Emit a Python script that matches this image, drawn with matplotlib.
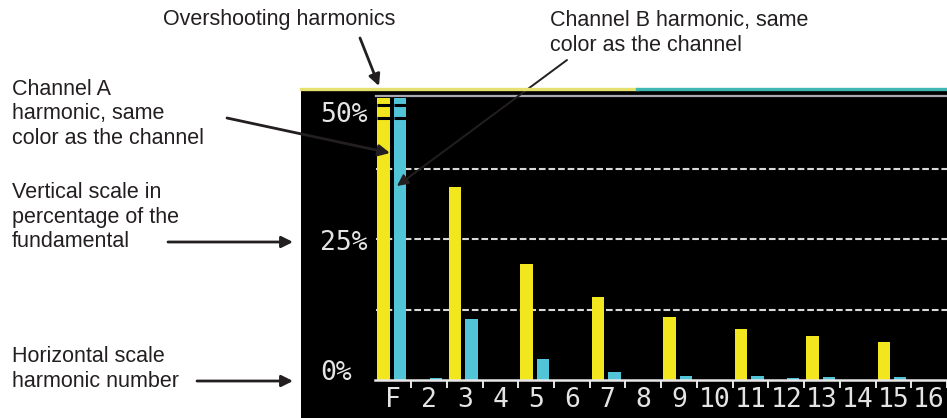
import matplotlib
matplotlib.use("Agg")
import matplotlib.pyplot as plt
import numpy as np
from matplotlib import font_manager

harmonics = ['F', '2', '3', '4', '5', '6', '7', '8', '9', '10', '11', '12', '13', '14', '15', '16']
channel_a = [100, 0, 34.2, 0, 20.6, 0, 14.7, 0, 11.2, 0, 9.0, 0, 7.8, 0, 6.7, 0]
channel_b = [100, 0.3, 10.8, 0, 3.7, 0, 1.4, 0, 0.7, 0, 0.7, 0.4, 0.5, 0, 0.5, 0]
scale_labels = ['0%', '25%', '50%']
grid_values = [12.5, 25, 37.5]

W, H = 947, 418
yellow = '#f2e61e'
cyan = '#52c4d8'
screen_text = '#e4e4e4'
ink = '#231f20'

names = {f.name for f in font_manager.fontManager.ttflist}
if 'Liberation Sans Narrow' in names:
    lcd_font, lcd_size = 'Liberation Sans Narrow', 21
else:
    lcd_font, lcd_size = 'DejaVu Sans Mono', 19

plt.rcParams['font.family'] = ['Liberation Sans', 'DejaVu Sans']

fig = plt.figure(figsize=(W / 100, H / 100), dpi=100)
ax = fig.add_axes([301 / W, 0, 646 / W, 329 / H])
ax.set_facecolor('black')

top = 50
slots = np.arange(len(harmonics))
a_shown = np.minimum(channel_a, top)
b_shown = np.minimum(channel_b, top)
ax.bar(slots + 0.23, a_shown, width=0.35, color=yellow, zorder=3)
ax.bar(slots + 0.69, b_shown, width=0.35, color=cyan, zorder=3)

# overshooting marks: two black stripes across clipped bars
for i in slots:
    if channel_a[i] > top:
        ax.hlines([48.8, 46.5], i + 0.05, i + 0.41, color='black', lw=2.2, zorder=4)
    if channel_b[i] > top:
        ax.hlines([48.8, 46.5], i + 0.51, i + 0.87, color='black', lw=2.2, zorder=4)

x0 = (376 - 301) / 646
for g in grid_values:
    ax.axhline(g, xmin=x0, color='#d8d8d8', lw=1.5, dashes=(3.2, 1.4), zorder=2)
ax.axhline(top + 0.3, xmin=x0, color='#a9a9b3', lw=1.6, zorder=2)

# status strip on top of the screen
ax.plot([0, 0.52], [1, 1], transform=ax.transAxes, color='#e6e070', lw=2.4, clip_on=False, zorder=5)
ax.plot([0.52, 1], [1, 1], transform=ax.transAxes, color='#3fb7b3', lw=2.4, clip_on=False, zorder=5)

ax.set_xlim(-75 / 36, (947 - 376) / 36)
ax.set_ylim(-38 / 5.64, 291 / 5.64)

for s in ['top', 'left', 'right']:
    ax.spines[s].set_visible(False)
ax.spines['bottom'].set_position(('data', 0))
ax.spines['bottom'].set_bounds(0, len(harmonics))
ax.spines['bottom'].set_color('#e8e8e8')
ax.spines['bottom'].set_linewidth(1.8)
ax.spines['bottom'].set_zorder(5)

ax.set_xticks(np.arange(1, len(harmonics) + 1))
ax.set_xticklabels([])
ax.tick_params(axis='x', which='major', direction='out', length=6, width=1.4, color='#e8e8e8')
ax.set_xticks(slots + 0.5, minor=True)
ax.set_xticklabels(harmonics, minor=True, family=lcd_font, fontsize=lcd_size, color=screen_text)
ax.tick_params(axis='x', which='minor', length=0, pad=5)
ax.set_yticks([])

label_y = [1.2, 24.3, 47.0]
for lab, ly in zip(scale_labels, label_y):
    ax.text(19 / 646, ly, lab, transform=ax.get_yaxis_transform(), ha='left', va='center',
            family=lcd_font, fontsize=lcd_size, color=screen_text)

# annotations around the screen
fs = 15.5
ls = 1.24
fig.text(163 / W, 1 - 20 / H, 'Overshooting harmonics', fontsize=fs, color=ink, va='center')
fig.text(550 / W, 1 - 33 / H, 'Channel B harmonic, same\ncolor as the channel',
         fontsize=fs, color=ink, va='center', linespacing=ls)
fig.text(12 / W, 1 - 114 / H, 'Channel A\nharmonic, same\ncolor as the channel',
         fontsize=fs, color=ink, va='center', linespacing=ls)
fig.text(12 / W, 1 - 217 / H, 'Vertical scale in\npercentage of the\nfundamental',
         fontsize=fs, color=ink, va='center', linespacing=ls)
fig.text(12 / W, 1 - 369 / H, 'Horizontal scale\nharmonic number',
         fontsize=fs, color=ink, va='center', linespacing=ls)

arrows = [((360, 38), (379, 86), 2.0),
          ((227, 118), (390, 153), 2.0),
          ((567, 60), (397, 186), 1.4),
          ((168, 242), (293, 242), 2.0),
          ((197, 381), (293, 381), 2.0)]
for (xs, ys), (xe, ye), lw in arrows:
    ax.annotate('', xy=(xe, H - ye), xycoords='figure pixels',
                xytext=(xs, H - ys), textcoords='figure pixels',
                arrowprops=dict(arrowstyle='-|>', color=ink, lw=lw, mutation_scale=17,
                                shrinkA=0, shrinkB=0),
                annotation_clip=False)

fig.savefig('out.png', dpi=100, facecolor='white')
